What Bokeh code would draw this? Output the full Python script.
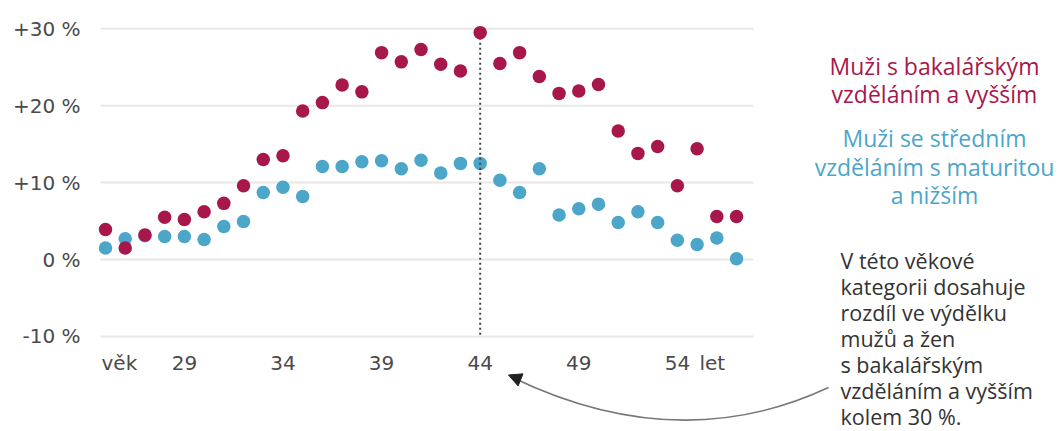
from bokeh.plotting import figure
from bokeh.models import Range1d, Arrow, NormalHead
from bokeh.core.properties import value
from bokeh.embed import file_html
from bokeh.resources import INLINE

# ---- data ----
ages = list(range(25, 58))
bachelor = [3.9, 1.5, 3.2, 5.5, 5.2, 6.2, 7.3, 9.6, 13.0, 13.5, 19.3, 20.4, 22.7, 21.8, 26.9, 25.7, 27.3,
            25.4, 24.5, 29.5, 25.5, 26.9, 23.8, 21.6, 21.9, 22.75, 16.7, 13.8, 14.7, 9.6, 14.4, 5.6, 5.6]
secondary = [1.5, 2.7, 3.1, 3.0, 3.0, 2.6, 4.3, 4.95, 8.7, 9.4, 8.2, 12.1, 12.1, 12.7, 12.85, 11.8, 12.9,
             11.25, 12.5, 12.5, 10.3, 8.7, 11.8, 5.8, 6.6, 7.2, 4.8, 6.2, 4.8, 2.5, 1.95, 2.8, 0.1]
y_ticks = [-10, 0, 10, 20, 30]
y_tick_labels = ["-10 %", "0 %", "+10 %", "+20 %", "+30 %"]
x_ticks = [29, 34, 39, 44, 49, 54]
x_tick_labels = ["29", "34", "39", "44", "49", "54"]
x_unit_left = "věk"
x_unit_right = "let"
highlight_age = 44
highlight_value = 29.5
red_label = ["Muži s bakalářským", "vzděláním a vyšším"]
blue_label = ["Muži se středním", "vzděláním s maturitou", "a nižším"]
note_lines = ["V této věkové", "kategorii dosahuje", "rozdíl ve výdělku", "mužů a žen",
              "s bakalářským", "vzděláním a vyšším", "kolem 30 %."]

RED = "#a8174b"
BLUE = "#4ba6c9"
GRID = "#e8e8e8"
TXT = "#333333"
TICK = "#4a4a4a"
FONT = "Open Sans"
TICK_FONT = "DejaVu Sans"

W, H = 1058, 431
PX_PER_YEAR = 19.72
PX_PER_PCT = 7.69
def px2x(p):
    return 25 + (p - 105) / PX_PER_YEAR
def px2y(p):
    return (259 - p) / PX_PER_PCT

p = figure(width=W, height=H, output_backend="svg", toolbar_location=None,
           x_range=Range1d(px2x(0), px2x(W)), y_range=Range1d(px2y(H), px2y(0)),
           min_border=0, min_border_left=0, min_border_right=0, min_border_top=0, min_border_bottom=0)
p.axis.visible = False
p.grid.visible = False
p.outline_line_color = None
p.background_fill_color = "white"

# grid lines
p.segment(x0=[px2x(100)] * len(y_ticks), x1=[px2x(753)] * len(y_ticks), y0=y_ticks, y1=y_ticks,
          line_color=GRID, line_width=2)
# y tick labels
p.text(x=[px2x(80)] * len(y_ticks), y=y_ticks, text=y_tick_labels, text_align="right",
       text_baseline="middle", text_font=value(TICK_FONT), text_font_size="20px", text_color=TICK)
# x tick labels
yl = px2y(362)
p.text(x=x_ticks, y=[yl] * len(x_ticks), text=x_tick_labels, text_align="center",
       text_baseline="middle", text_font=value(TICK_FONT), text_font_size="20px", text_color=TICK)
p.text(x=[px2x(101)], y=[yl], text=[x_unit_left], text_align="left", text_baseline="middle",
       text_font=value(TICK_FONT), text_font_size="20px", text_color=TICK)
p.text(x=[px2x(699)], y=[yl], text=[x_unit_right], text_align="left", text_baseline="middle",
       text_font=value(TICK_FONT), text_font_size="20px", text_color=TICK)

# dots
p.scatter(ages, secondary, size=13.5, color=BLUE, line_color=None)
p.segment(x0=[highlight_age], x1=[highlight_age], y0=[highlight_value], y1=[-10],
          line_color="#444444", line_width=2, line_dash="2 3")
p.scatter(ages, bachelor, size=13.5, color=RED, line_color=None)

# right-hand labels
cx = px2x(934)
p.text(x=[cx] * 2, y=[px2y(65), px2y(93)], text=red_label, text_align="center", text_baseline="middle",
       text_font=value(FONT), text_font_size="23px", text_color=RED)
p.text(x=[cx] * 3, y=[px2y(137), px2y(166), px2y(194)], text=blue_label, text_align="center",
       text_baseline="middle", text_font=value(FONT), text_font_size="23px", text_color=BLUE)
p.text(x=[px2x(840)] * len(note_lines), y=[px2y(260 + 26 * i) for i in range(len(note_lines))],
       text=note_lines, text_align="left", text_baseline="middle", text_font=value(FONT),
       text_font_size="21.5px", text_color=TXT)

# curved arrow
p.quadratic(x0=[px2x(828)], y0=[px2y(387)], x1=[px2x(512)], y1=[px2y(377)],
            cx=[px2x(678)], cy=[px2y(457)], line_color="#777777", line_width=1.6)
p.add_layout(Arrow(end=NormalHead(size=13, fill_color="#222222", line_color="#222222"),
                   x_start=px2x(524), y_start=px2y(381), x_end=px2x(508), y_end=px2y(374.5),
                   line_alpha=0))

open("out.html", "w").write(file_html(p, INLINE))
